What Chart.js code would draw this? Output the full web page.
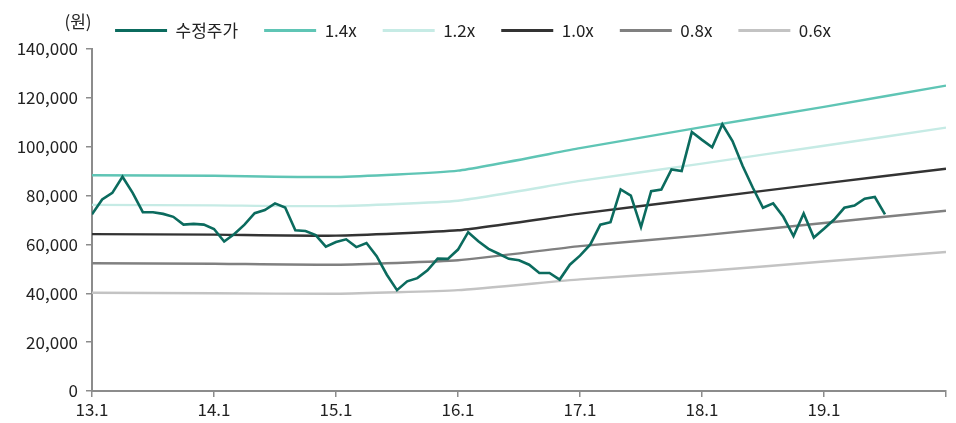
<!DOCTYPE html>
<html>
<head>
<meta charset="utf-8">
<script src="https://cdn.jsdelivr.net/npm/chart.js@4/dist/chart.umd.min.js"></script>
<style>
  body { margin: 0; background: #fff; }
  #wrap { width: 956px; height: 423px; }
</style>
</head>
<body>
<div id="wrap"><canvas id="pbrChart"></canvas></div>
<script>
// monthly adjusted close, starting 13.1
const priceValues = [
  72300, 78400, 81100, 87700, 81100, 73200, 73200, 72500, 71300, 68100, 68400, 68100,
  66300, 61200, 64300, 68100, 72800, 74100, 76800, 75100, 65800, 65500, 63800, 59100,
  61000, 62100, 58900, 60600, 55200, 47600, 41300, 44900, 46200, 49400, 54200, 54100,
  57900, 65000, 61300, 58200, 56200, 54100, 53500, 51700, 48300, 48300, 45600, 51700,
  55400, 59900, 68100, 69100, 82500, 80000, 67100, 81800, 82500, 90700, 90000, 106000,
  102800, 99800, 109200, 102300, 92100, 83200, 75000, 76800, 71300, 63400, 72700, 62800,
  66400, 70200, 75000, 75900, 78700, 79400, 72300
];

// PBR band values read at each January (13.1 ... 20.1)
const bandMonths = [0, 12, 24, 36, 48, 60, 72, 84];
const band14 = [88300, 88100, 87600, 90200, 99400, 108000, 116300, 125000];
const band12 = [76200, 76000, 75700, 77900, 86000, 93100, 100400, 107800];
const band10 = [64200, 64000, 63600, 65800, 72600, 78800, 85000, 91000];
const band08 = [52300, 52100, 51700, 53500, 59300, 63700, 68800, 73800];
const band06 = [40200, 40000, 39800, 41300, 45700, 49000, 53000, 56900];

const seriesNames = ['수정주가', '1.4x', '1.2x', '1.0x', '0.8x', '0.6x'];
const seriesColors = ['#0b6b5e', '#5fc5b5', '#c6ebe5', '#333333', '#808080', '#c3c3c3'];

const fontFamily = "'Noto Sans CJK KR', 'Noto Sans', sans-serif";
const textColor = '#222';
const axisColor = '#8c8c8c';

const toPoints = (xs, ys) => ys.map((v, i) => ({ x: xs[i], y: v }));
const priceMonths = priceValues.map((v, i) => i);

const bands = [band14, band12, band10, band08, band06];

const datasets = [{
  label: seriesNames[0],
  data: toPoints(priceMonths, priceValues),
  borderColor: seriesColors[0],
  backgroundColor: seriesColors[0],
  borderWidth: 2.6,
  pointRadius: 0,
  tension: 0,
  order: 0
}].concat(bands.map((b, k) => ({
  label: seriesNames[k + 1],
  data: toPoints(bandMonths, b),
  borderColor: seriesColors[k + 1],
  backgroundColor: seriesColors[k + 1],
  borderWidth: 2.4,
  pointRadius: 0,
  tension: 0.15,
  order: 1
})));

// "(원)" unit label over the y axis
const unitLabel = {
  id: 'unitLabel',
  afterDraw(chart) {
    const ctx = chart.ctx;
    ctx.save();
    ctx.font = '17px ' + fontFamily;
    ctx.fillStyle = textColor;
    ctx.textAlign = 'center';
    ctx.textBaseline = 'middle';
    ctx.fillText('(원)', chart.chartArea.left - 14, 22);
    ctx.restore();
  }
};

new Chart(document.getElementById('pbrChart'), {
  type: 'line',
  data: { datasets },
  plugins: [unitLabel],
  options: {
    responsive: true,
    maintainAspectRatio: false,
    animation: false,
    layout: { padding: { left: 0, right: 10, top: -4, bottom: 0 } },
    plugins: {
      tooltip: { enabled: false },
      legend: {
        position: 'top',
        labels: {
          boxWidth: 52,
          boxHeight: 3,
          padding: 26,
          color: textColor,
          font: { family: fontFamily, size: 17 },
          generateLabels(chart) {
            const items = Chart.defaults.plugins.legend.labels.generateLabels(chart);
            items.forEach(it => { it.lineWidth = 0; });
            return items;
          }
        }
      }
    },
    scales: {
      x: {
        type: 'linear',
        min: 0,
        max: 84,
        afterFit: scale => { scale.height = 32; },
        border: { display: true, color: axisColor, width: 2 },
        grid: { display: true, drawOnChartArea: false, color: axisColor, tickLength: 6, lineWidth: 1.5 },
        ticks: {
          stepSize: 12,
          padding: 2,
          color: textColor,
          font: { family: fontFamily, size: 17 },
          maxRotation: 0,
          callback: v => (v >= 84 ? '' : (13 + v / 12) + '.1')
        }
      },
      y: {
        min: 0,
        max: 140000,
        afterFit: scale => { scale.width = 92; },
        border: { display: true, color: axisColor, width: 2 },
        grid: { display: true, drawOnChartArea: false, color: axisColor, tickLength: 6, lineWidth: 1.5 },
        ticks: {
          stepSize: 20000,
          padding: 8,
          color: textColor,
          font: { family: fontFamily, size: 17 },
          callback: v => v.toLocaleString('en-US')
        }
      }
    }
  }
});
</script>
</body>
</html>
